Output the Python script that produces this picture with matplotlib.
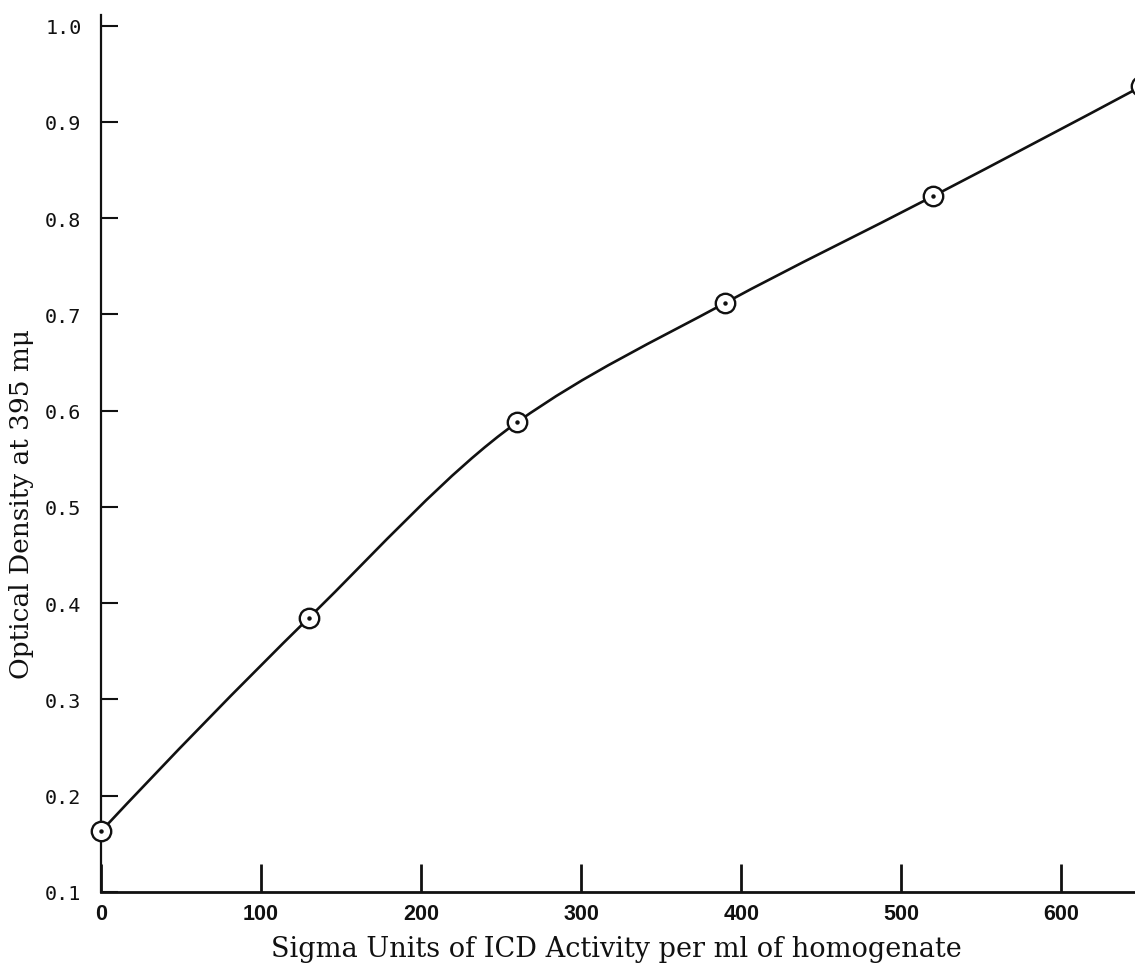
import matplotlib
matplotlib.use("Agg")
import matplotlib.pyplot as plt
import numpy as np
from matplotlib.path import Path
from matplotlib.patches import PathPatch

# standard curve: ICD activity vs optical density
sigma_units = [0, 130, 260, 390, 520, 650]
optical_density = [0.163, 0.385, 0.588, 0.712, 0.823, 0.937]

x_ticks = [0, 100, 200, 300, 400, 500, 600]
y_ticks = [0.1, 0.2, 0.3, 0.4, 0.5, 0.6, 0.7, 0.8, 0.9, 1.0]
y_ticklabels = ["0.1", "0.2", "0.3", "0.4", "0.5", "0.6", "0.7", "0.8", "0.9", "1.0"]

INK = "#111111"


def smooth_path(xs, ys):
    """Shape-preserving (pchip-style) curve through the points, as beziers."""
    x = np.asarray(xs, float)
    y = np.asarray(ys, float)
    h = np.diff(x)
    s = np.diff(y) / h
    m = np.empty_like(y)
    # interior slopes: weighted harmonic mean of neighbouring secants
    for i in range(1, len(x) - 1):
        w1 = 2 * h[i] + h[i - 1]
        w2 = h[i] + 2 * h[i - 1]
        m[i] = (w1 + w2) / (w1 / s[i - 1] + w2 / s[i])
    m[0] = ((2 * h[0] + h[1]) * s[0] - h[0] * s[1]) / (h[0] + h[1])
    m[-1] = ((2 * h[-1] + h[-2]) * s[-1] - h[-1] * s[-2]) / (h[-1] + h[-2])
    verts = [(x[0], y[0])]
    codes = [Path.MOVETO]
    for i in range(len(x) - 1):
        d = h[i] / 3
        verts += [(x[i] + d, y[i] + d * m[i]),
                  (x[i + 1] - d, y[i + 1] - d * m[i + 1]),
                  (x[i + 1], y[i + 1])]
        codes += [Path.CURVE4] * 3
    return Path(verts, codes)


fig = plt.figure(figsize=(11.35, 9.7), dpi=100)
ax = fig.add_axes([0.089, 0.0794, 0.911, 0.904])

ax.set_xlim(0, 646)
ax.set_ylim(0.1, 1.011)

ax.add_patch(PathPatch(smooth_path(sigma_units, optical_density),
                       facecolor="none", edgecolor=INK, linewidth=1.9,
                       zorder=2))
ax.plot(sigma_units, optical_density, linestyle="none", marker="o",
        markersize=14, markerfacecolor="white", markeredgecolor=INK,
        markeredgewidth=1.7, clip_on=False, zorder=3)
ax.plot(sigma_units, optical_density, linestyle="none", marker="o",
        markersize=2.2, color=INK, clip_on=False, zorder=4)

for s in ("top", "right"):
    ax.spines[s].set_visible(False)
ax.spines["left"].set_linewidth(1.6)
ax.spines["bottom"].set_linewidth(2.0)
ax.spines["left"].set_color(INK)
ax.spines["bottom"].set_color(INK)

ax.set_xticks(x_ticks)
ax.set_xticklabels([str(v) for v in x_ticks],
                   fontfamily="Liberation Sans", fontweight="bold",
                   fontsize=15.5)
ax.tick_params(axis="x", direction="in", length=20, width=2.0,
               pad=8, colors=INK)

ax.set_yticks(y_ticks)
ax.set_yticklabels(y_ticklabels, fontfamily="DejaVu Sans Mono",
                   fontsize=14.5)
ax.tick_params(axis="y", direction="in", length=12, width=1.5,
               pad=14, colors=INK)

fig.text(22 / 1135, 0.5 - 0.02, "Optical Density at 395 m\u03bc",
         rotation=90, ha="center", va="center", fontsize=19,
         fontfamily="DejaVu Serif", color=INK)
fig.text(616 / 1135, 1 - 950 / 970,
         "Sigma Units of ICD Activity per ml of homogenate",
         ha="center", va="center", fontsize=19.5,
         fontfamily="DejaVu Serif", color=INK)

fig.savefig("out.png", dpi=100, facecolor="white")
